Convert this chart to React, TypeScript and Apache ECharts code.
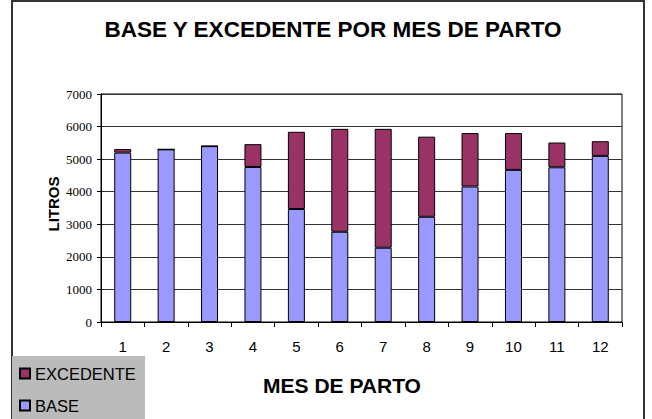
import React, { useEffect, useRef } from "react";
import * as echarts from "echarts";

const months = ["1", "2", "3", "4", "5", "6", "7", "8", "9", "10", "11", "12"];
const baseValues = [5200, 5300, 5400, 4760, 3470, 2770, 2280, 3230, 4160, 4670, 4750, 5100];
const excedenteValues = [110, 0, 0, 700, 2370, 3160, 3650, 2460, 1640, 1130, 760, 450];
const yTicks = { min: 0, max: 7000, interval: 1000 };

const SANS = "Liberation Sans";
const SERIF = "'Liberation Serif', 'Times New Roman', serif";

export default function App() {
  const ref = useRef<HTMLDivElement>(null);
  useEffect(() => {
    if (!ref.current) return;
    const chart = echarts.init(ref.current, null, { renderer: "svg" });
    chart.setOption({
      animation: false,
      backgroundColor: "#ffffff",
      title: {
        text: "BASE Y EXCEDENTE POR MES DE PARTO",
        left: 328,
        textAlign: "center",
        top: 13,
        textStyle: { fontFamily: SANS, fontWeight: "bold", fontSize: 22.5, color: "#000" },
      },
      grid: { left: 101, right: 30, top: 94, bottom: 97, show: true, borderColor: "#000", borderWidth: 1 },
      legend: {
        orient: "vertical",
        left: 19,
        top: 365,
        padding: 0,
        itemGap: 15,
        itemWidth: 10,
        itemHeight: 10,
        icon: "rect",
        data: ["EXCEDENTE", "BASE"],
        textStyle: { fontFamily: SANS, fontSize: 16.5, lineHeight: 16, color: "#000" },
      },
      xAxis: {
        type: "category",
        data: months,
        axisLine: { lineStyle: { color: "#000", width: 1 } },
        axisTick: { show: true, length: 5, lineStyle: { color: "#000" } },
        axisLabel: { fontFamily: SANS, fontSize: 15, color: "#000", margin: 17 },
      },
      yAxis: {
        type: "value",
        min: yTicks.min,
        max: yTicks.max,
        interval: yTicks.interval,
        axisLine: { show: true, lineStyle: { color: "#000" } },
        axisTick: { show: true, length: 4, lineStyle: { color: "#000" } },
        axisLabel: {
          fontFamily: SERIF,
          fontSize: 13,
          color: "#000",
          margin: 9,
          formatter: (v: number) => String(v),
        },
        splitLine: { show: true, lineStyle: { color: "#333", width: 1 } },
      },
      graphic: [
        {
          type: "rect",
          z: -10,
          shape: { x: 12, y: 1, width: 632, height: 430 },
          style: { fill: "#fff", stroke: "#333", lineWidth: 2 },
        },
        {
          type: "rect",
          z: -5,
          shape: { x: 12, y: 356, width: 133, height: 70 },
          style: { fill: "#bbbbbb" },
        },
        {
          type: "text",
          x: 342,
          y: 385,
          style: {
            text: "MES DE PARTO",
            fontFamily: SANS,
            fontWeight: "bold",
            fontSize: 21,
            fill: "#000",
            align: "center",
            verticalAlign: "middle",
          },
        },
        {
          type: "text",
          x: 53,
          y: 204,
          rotation: Math.PI / 2,
          style: {
            text: "LITROS",
            fontFamily: SANS,
            fontWeight: "bold",
            fontSize: 15,
            fill: "#000",
            align: "center",
            verticalAlign: "middle",
          },
        },
      ],
      series: [
        {
          name: "BASE",
          type: "bar",
          stack: "total",
          barWidth: 17,
          data: baseValues,
          itemStyle: { color: "#9999ff", borderColor: "#000", borderWidth: 1 },
        },
        {
          name: "EXCEDENTE",
          type: "bar",
          stack: "total",
          barWidth: 17,
          data: excedenteValues,
          itemStyle: { color: "#993366", borderColor: "#000", borderWidth: 1 },
        },
      ],
    });
    return () => chart.dispose();
  }, []);
  return <div ref={ref} style={{ position: "absolute", left: 0, top: 0, width: 652, height: 419 }} />;
}
